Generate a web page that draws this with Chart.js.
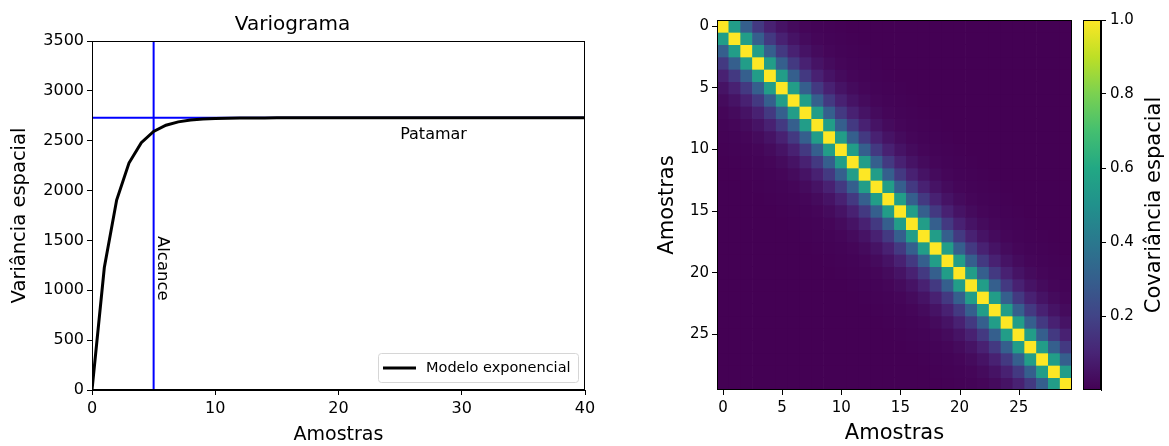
<!DOCTYPE html>
<html>
<head>
<meta charset="utf-8">
<script src="https://cdn.jsdelivr.net/npm/chart.js@4.4.1/dist/chart.umd.min.js"></script>
<style>
  body { margin: 0; background: #fff; }
  #wrap { position: relative; width: 1169px; height: 446px; }
  canvas { position: absolute; top: 0; }
</style>
</head>
<body>
<div id="wrap">
  <canvas id="vario" style="left:0px" width="600" height="446"></canvas>
  <canvas id="heat" style="left:640px" width="440" height="446"></canvas>
  <canvas id="cbar" style="left:1060px" width="109" height="446"></canvas>
</div>
<script>
// variogram model (lag 0..40)
var lags = [0, 1, 2, 3, 4, 5, 6, 7, 8, 9, 10, 11, 12, 13, 14, 15, 16, 17, 18, 19, 20,
            21, 22, 23, 24, 25, 26, 27, 28, 29, 30, 31, 32, 33, 34, 35, 36, 37, 38, 39, 40];
var gamma = [0, 1228, 1905, 2276, 2480, 2593, 2655, 2689, 2707, 2717, 2723, 2726, 2728, 2729, 2729, 2730,
             2730, 2730, 2730, 2730, 2730, 2730, 2730, 2730, 2730, 2730, 2730, 2730, 2730, 2730, 2730,
             2730, 2730, 2730, 2730, 2730, 2730, 2730, 2730, 2730, 2730];
var patamar = 2730;   // sill
var alcance = 5;      // range

// covariance by lag |i-j| (30 samples)
var nSamples = 30;
var covLag = [1, 0.55, 0.30, 0.166, 0.091, 0.050, 0.028, 0.015, 0.008, 0.0046,
              0.0025, 0.0014, 0.0008, 0.0004, 0.0002, 0.0001, 0, 0, 0, 0,
              0, 0, 0, 0, 0, 0, 0, 0, 0, 0];
var heatTicks = [0, 5, 10, 15, 20, 25];
var cbarTicks = [0.2, 0.4, 0.6, 0.8, 1.0];

var FONT = "'DejaVu Sans', sans-serif";
Chart.defaults.font.family = FONT;
Chart.defaults.color = '#000';
Chart.defaults.animation = false;

// viridis
var viridis = ['#440154', '#482475', '#414487', '#355f8d', '#2a788e', '#21918c',
               '#22a884', '#44bf70', '#7ad151', '#bddf26', '#fde725'];
function hex(c) { return [parseInt(c.substr(1, 2), 16), parseInt(c.substr(3, 2), 16), parseInt(c.substr(5, 2), 16)]; }
function cmap(v) {
  v = Math.max(0, Math.min(1, v));
  var p = v * 10, k = Math.min(9, Math.floor(p)), t = p - k;
  var a = hex(viridis[k]), b = hex(viridis[k + 1]);
  return 'rgb(' + a.map(function(x, n) { return Math.round(x + (b[n] - x) * t); }).join(',') + ')';
}

// box around plot area
var frame = {
  id: 'frame',
  afterDatasetsDraw: function(chart) {
    var ca = chart.chartArea, c = chart.ctx;
    c.save();
    c.strokeStyle = '#000';
    c.lineWidth = 1;
    c.strokeRect(Math.round(ca.left) + 0.5, Math.round(ca.top) + 0.5,
                 Math.round(ca.right - ca.left) - 1, Math.round(ca.bottom - ca.top) - 1);
    c.restore();
  }
};

// x tick marks of the heatmap (strip under the axis cleared first)
var heatMarks = {
  id: 'heatMarks',
  afterDraw: function(chart) {
    var c = chart.ctx, xs = chart.scales.x, ca = chart.chartArea, b = Math.round(ca.bottom);
    c.save();
    c.fillStyle = '#fff';
    c.fillRect(ca.left - 2, b, ca.right - ca.left + 4, 8);
    c.strokeStyle = '#000';
    c.lineWidth = 1;
    heatTicks.forEach(function(v) {
      var px = Math.round(xs.getPixelForValue(v)) + 0.5;
      c.beginPath();
      c.moveTo(px, b - 1);
      c.lineTo(px, b + 5);
      c.stroke();
    });
    c.restore();
  }
};

// texts and legend of the variogram
var varioDecor = {
  id: 'varioDecor',
  afterDraw: function(chart) {
    var c = chart.ctx, xs = chart.scales.x, ys = chart.scales.y, ca = chart.chartArea;
    c.save();
    c.fillStyle = '#000';
    c.font = '16px ' + FONT;
    c.textBaseline = 'middle';
    c.textAlign = 'left';
    c.fillText('Patamar', xs.getPixelForValue(25), ys.getPixelForValue(2555));

    c.save();
    c.translate(xs.getPixelForValue(alcance) + 8.5, ys.getPixelForValue(1545));
    c.rotate(Math.PI / 2);
    c.font = '16.5px ' + FONT;
    c.fillText('Alcance', 0, 0);
    c.restore();

    // legend
    var w = 200, h = 29, x = ca.right - 7 - w, y = ca.bottom - 8 - h;
    c.beginPath();
    c.roundRect(x + 0.5, y + 0.5, w, h, 3);
    c.fillStyle = 'rgba(255,255,255,0.8)';
    c.fill();
    c.strokeStyle = '#d6d6d6';
    c.lineWidth = 1;
    c.stroke();
    c.beginPath();
    c.moveTo(x + 5, y + h / 2 + 0.5);
    c.lineTo(x + 38, y + h / 2 + 0.5);
    c.strokeStyle = '#000';
    c.lineWidth = 3;
    c.stroke();
    c.fillStyle = '#000';
    c.font = '14.5px ' + FONT;
    c.fillText('Modelo exponencial', x + 48, y + h / 2 + 1);
    c.restore();
  }
};

new Chart(document.getElementById('vario'), {
  type: 'line',
  data: {
    datasets: [{
      label: 'Modelo exponencial',
      data: lags.map(function(l, i) { return { x: l, y: gamma[i] }; }),
      borderColor: '#000', borderWidth: 3, pointRadius: 0, tension: 0
    }, {
      label: 'patamar',
      data: [{ x: 0, y: patamar }, { x: 40, y: patamar }],
      borderColor: '#0000ff', borderWidth: 2, pointRadius: 0
    }, {
      label: 'alcance',
      data: [{ x: alcance, y: 0 }, { x: alcance, y: 3500 }],
      borderColor: '#0000ff', borderWidth: 2, pointRadius: 0
    }]
  },
  options: {
    responsive: false,
    layout: { padding: { right: 15 } },
    plugins: {
      legend: { display: false },
      tooltip: { enabled: false },
      title: { display: true, text: 'Variograma', font: { size: 20, weight: 'normal' }, color: '#000',
               padding: { top: 13, bottom: 4 } }
    },
    scales: {
      x: {
        type: 'linear', min: 0, max: 40,
        ticks: { stepSize: 10, font: { size: 16 }, padding: 4, maxRotation: 0 },
        grid: { drawOnChartArea: false, tickLength: 5, color: '#000' },
        border: { color: '#000' },
        title: { display: true, text: 'Amostras', font: { size: 19 }, padding: 0 },
        afterFit: function(s) { s.height = 56; }
      },
      y: {
        min: 0, max: 3500,
        ticks: { stepSize: 500, font: { size: 16 }, padding: 3,
                 callback: function(v) { return String(v); } },
        grid: { drawOnChartArea: false, tickLength: 5, color: '#000' },
        border: { color: '#000' },
        title: { display: true, text: 'Variância espacial', font: { size: 19.5 }, padding: { top: 8 } },
        afterFit: function(s) { s.width = 92; }
      }
    }
  },
  plugins: [frame, varioDecor]
});

// covariance matrix: one floating-bar dataset per row
var heatSets = [];
for (var j = 0; j < nSamples; j++) {
  var row = [], cols = [];
  for (var i = 0; i < nSamples; i++) {
    row.push({ x: i, y: [j - 0.5, j + 0.5] });
    cols.push(cmap(covLag[Math.abs(i - j)]));
  }
  heatSets.push({ data: row, backgroundColor: cols, borderWidth: 0, grouped: false,
                  barPercentage: 1, categoryPercentage: 1 });
}

new Chart(document.getElementById('heat'), {
  type: 'bar',
  data: { datasets: heatSets },
  options: {
    responsive: false,
    layout: { padding: { top: 20, right: 8 } },
    plugins: { legend: { display: false }, tooltip: { enabled: false } },
    scales: {
      x: {
        type: 'linear', min: -0.5, max: nSamples - 0.5, offset: false,
        afterBuildTicks: function(s) { s.ticks = heatTicks.map(function(v) { return { value: v }; }); },
        ticks: { font: { size: 15 }, padding: 9, maxRotation: 0 },
        grid: { display: false, drawTicks: false },
        border: { color: '#000' },
        title: { display: true, text: 'Amostras', font: { size: 21 }, padding: 0 },
        afterFit: function(s) { s.height = 56; }
      },
      y: {
        type: 'linear', min: -0.5, max: nSamples - 0.5, reverse: true,
        afterBuildTicks: function(s) { s.ticks = heatTicks.map(function(v) { return { value: v }; }); },
        ticks: { font: { size: 15 }, padding: 3 },
        grid: { drawOnChartArea: false, offset: false, tickLength: 5, color: '#000' },
        border: { color: '#000' },
        title: { display: true, text: 'Amostras', font: { size: 21 }, padding: { top: 15 } },
        afterFit: function(s) { s.width = 77; }
      }
    }
  },
  plugins: [frame, heatMarks]
});

// colorbar
var cbarTitle = {
  id: 'cbarTitle',
  afterDraw: function(chart) {
    var c = chart.ctx, ca = chart.chartArea;
    c.save();
    c.translate(95, (ca.top + ca.bottom) / 2);
    c.rotate(-Math.PI / 2);
    c.font = '21px ' + FONT;
    c.fillStyle = '#000';
    c.textAlign = 'center';
    c.textBaseline = 'middle';
    c.fillText('Covariância espacial', 0, 0);
    c.restore();
  }
};

new Chart(document.getElementById('cbar'), {
  type: 'bar',
  data: {
    labels: [''],
    datasets: [{
      data: [[0, 1]],
      borderWidth: 0, barPercentage: 1, categoryPercentage: 1,
      backgroundColor: function(ctx) {
        var ca = ctx.chart.chartArea;
        if (!ca) return viridis[5];
        var g = ctx.chart.ctx.createLinearGradient(0, ca.bottom, 0, ca.top);
        viridis.forEach(function(col, k) { g.addColorStop(k / 10, col); });
        return g;
      }
    }]
  },
  options: {
    responsive: false,
    layout: { padding: { left: 23, top: 20, bottom: 56 } },
    plugins: { legend: { display: false }, tooltip: { enabled: false } },
    scales: {
      x: { display: false },
      y: {
        position: 'right', min: 0, max: 1,
        afterBuildTicks: function(s) { s.ticks = cbarTicks.map(function(v) { return { value: v }; }); },
        ticks: { font: { size: 15 }, padding: 4, callback: function(v) { return v.toFixed(1); } },
        grid: { drawOnChartArea: false, tickLength: 5, color: '#000' },
        border: { color: '#000' },
        afterFit: function(s) { s.width = 68; }
      }
    }
  },
  plugins: [frame, cbarTitle]
});
</script>
</body>
</html>
